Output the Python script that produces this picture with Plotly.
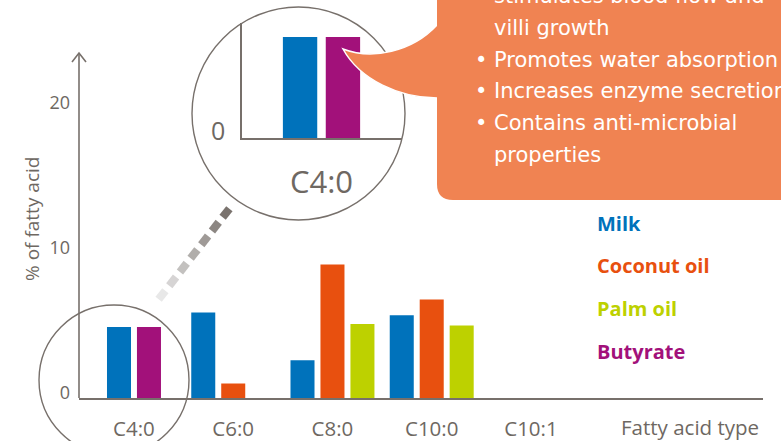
import plotly.graph_objects as go

# ---------------- data ----------------
categories = ["C4:0", "C6:0", "C8:0", "C10:0", "C10:1"]
milk = [4.9, 5.9, 2.6, 5.7, None]
coconut_oil = [None, 1.0, 9.2, 6.8, None]
palm_oil = [None, 0.0, 5.1, 5.0, None]
butyrate = [4.9, None, None, None, None]
series_names = ["Milk", "Coconut oil", "Palm oil", "Butyrate"]
y_ticks = [0, 10, 20]
zoom_category = "C4:0"
benefits = [
    ("", "stimulates blood flow and"),
    ("", "villi growth"),
    ("•", "Promotes water absorption"),
    ("•", "Increases enzyme secretion"),
    ("•", "Contains anti-microbial"),
    ("", "properties"),
]

# ---------------- styles ----------------
colors = ["#0072BB", "#E8500F", "#BDD100", "#A2117A"]
GRAY = "#77706B"
TXT = "#6E6862"
ORANGE = "#F08352"
W, H = 781, 441
L, R, T, B = 79, 18, 10, 43
PW, PH = W - L - R, H - T - B


def px(x):
    return (x - L) / PW


def py(y):
    return (H - B - y) / PH


series = [milk, coconut_oil, palm_oil, butyrate]
PITCH, BW = 0.302, 0.242

# per-category slot layout (only series that have a value take a slot)
offsets = [[0.0] * len(categories) for _ in series]
for ci in range(len(categories)):
    present = [si for si, s in enumerate(series) if s[ci] is not None]
    n = len(present)
    for k, si in enumerate(present):
        offsets[si][ci] = (k - (n - 1) / 2) * PITCH - BW / 2

fig = go.Figure()
for si, (name, vals) in enumerate(zip(series_names, series)):
    fig.add_trace(go.Bar(
        x=categories, y=vals, name=name, marker_color=colors[si],
        marker_line_width=0, offset=offsets[si], width=BW,
        xaxis="x", yaxis="y", showlegend=False, hoverinfo="skip"))

# zoomed inset of the first category
zi = categories.index(zoom_category)
for si, (name, vals) in enumerate(zip(series_names, series)):
    if vals[zi] is None:
        continue
    fig.add_trace(go.Bar(
        x=[zoom_category], y=[vals[zi]], marker_color=colors[si],
        marker_line_width=0, offset=[offsets[si][zi]], width=BW,
        xaxis="x2", yaxis="y2", showlegend=False, hoverinfo="skip"))

FONT = "Open Sans"
BOXFONT = "DejaVu Sans"
shapes = []
# y axis line with arrow
shapes.append(dict(type="line", xref="paper", yref="paper", x0=0, x1=0,
                   y0=py(398), y1=py(53), line=dict(color=GRAY, width=1.6)))
shapes.append(dict(type="path", xref="paper", yref="paper",
                   path=f"M{px(72)},{py(62)} L{px(79)},{py(53)} L{px(86)},{py(62)}",
                   line=dict(color=GRAY, width=1.6)))
# small circle around C4:0
shapes.append(dict(type="circle", xref="paper", yref="paper",
                   x0=px(114 - 75), x1=px(114 + 75), y0=py(380 + 75), y1=py(380 - 75),
                   line=dict(color=GRAY, width=1.4), layer="above"))
# big magnifier circle
shapes.append(dict(type="circle", xref="paper", yref="paper",
                   x0=px(298.5 - 106.5), x1=px(298.5 + 106.5),
                   y0=py(113.5 + 106.5), y1=py(113.5 - 106.5),
                   line=dict(color=GRAY, width=1.4), layer="above"))
# dotted connector (gradient)
x_start, y_start, x_end, y_end = 162, 295, 226, 213
nd = 7
dx, dy = x_end - x_start, y_end - y_start
ln = (dx * dx + dy * dy) ** 0.5
ux, uy = dx / ln, dy / ln
c0, c1 = (232, 232, 232), (122, 115, 110)
for i in range(nd):
    t = i / (nd - 1)
    cx, cy = x_start + dx * t, y_start + dy * t
    col = "rgb(%d,%d,%d)" % tuple(round(a + (b - a) * t) for a, b in zip(c0, c1))
    shapes.append(dict(type="line", xref="paper", yref="paper",
                       x0=px(cx - 5.5 * ux), y0=py(cy - 5.5 * uy),
                       x1=px(cx + 5.5 * ux), y1=py(cy + 5.5 * uy),
                       line=dict(color=col, width=8), layer="above"))
# callout tail
tail = (f"M{px(343)},{py(49)} C{px(372)},{py(60)} {px(412)},{py(52)} {px(437)},{py(25)} "
        f"L{px(455)},{py(25)} L{px(455)},{py(98)} L{px(437)},{py(98)} "
        f"C{px(400)},{py(98)} {px(360)},{py(80)} {px(343)},{py(49)} Z")
shapes.append(dict(type="path", xref="paper", yref="paper", path=tail,
                   fillcolor=ORANGE, line=dict(color="white", width=1.5), layer="above"))
# callout box
bx0, bx1, by0, by1, rr = 437, 810, -30, 200, 16
box = (f"M{px(bx0)},{py(by0)} L{px(bx0)},{py(by1 - rr)} "
       f"Q{px(bx0)},{py(by1)} {px(bx0 + rr)},{py(by1)} "
       f"L{px(bx1)},{py(by1)} L{px(bx1)},{py(by0)} Z")
shapes.append(dict(type="path", xref="paper", yref="paper", path=box,
                   fillcolor=ORANGE, line=dict(width=0), layer="above"))

annotations = []
# y axis title
annotations.append(dict(text="% of fatty acid", xref="paper", yref="paper",
                        x=px(32), y=py(219), textangle=-90, showarrow=False,
                        font=dict(family=FONT, size=19, color=TXT),
                        xanchor="center", yanchor="middle"))
annotations.append(dict(text="Fatty acid type", xref="paper", yref="paper",
                        x=px(690), y=py(427), showarrow=False,
                        font=dict(family=FONT, size=20.5, color=TXT),
                        xanchor="center", yanchor="middle"))
# legend labels
for i, name in enumerate(series_names):
    annotations.append(dict(text=f"<b>{name}</b>", xref="paper", yref="paper",
                            x=px(595), y=py(223 + i * 42.7), showarrow=False,
                            font=dict(family=FONT, size=20, color=colors[i]),
                            xanchor="left", yanchor="middle"))
# callout text
for i, (bullet, line) in enumerate(benefits):
    yc = -4 + i * 31.8
    if bullet:
        annotations.append(dict(text=bullet, xref="paper", yref="paper",
                                x=px(481), y=py(yc), showarrow=False,
                                font=dict(family=BOXFONT, size=21, color="white"),
                                xanchor="center", yanchor="middle"))
    annotations.append(dict(text=line, xref="paper", yref="paper",
                            x=px(492), y=py(yc), showarrow=False,
                            font=dict(family=BOXFONT, size=21, color="white"),
                            xanchor="left", yanchor="middle"))

fig.update_layout(
    width=W, height=H, margin=dict(l=L, r=R, t=T, b=B, autoexpand=False),
    paper_bgcolor="white", plot_bgcolor="rgba(0,0,0,0)",
    barmode="overlay", showlegend=False,
    xaxis=dict(type="category", categoryorder="array", categoryarray=categories,
               range=[-0.554, 6.338], showline=True, linecolor=GRAY, linewidth=1.8,
               ticks="", showgrid=False, zeroline=False, ticklabelstandoff=11,
               tickfont=dict(family=FONT, size=20.5, color=TXT), domain=[0, 1]),
    yaxis=dict(range=[0, PH / 14.5], showline=False, showgrid=False, zeroline=False,
               tickvals=y_ticks, ticks="", ticklabelshift=-5, ticklabelstandoff=8,
               tickfont=dict(family=FONT, size=18, color=TXT), domain=[0, 1]),
    xaxis2=dict(type="category", categoryarray=[zoom_category], anchor="y2",
                domain=[px(242), px(402)], range=[-0.56, 0.567],
                showline=True, linecolor=GRAY, linewidth=1.6, ticks="",
                showgrid=False, zeroline=False, ticklabelstandoff=16,
                tickfont=dict(family=FONT, size=31, color=TXT)),
    yaxis2=dict(anchor="x2", domain=[py(138), py(23)], range=[0, 115 / 20.6],
                showline=True, linecolor=GRAY, linewidth=1.6, ticks="",
                showgrid=False, zeroline=False, tickvals=[0], ticklabelshift=-7,
                ticklabelstandoff=10, tickfont=dict(family=FONT, size=25, color=TXT)),
    shapes=shapes, annotations=annotations,
)

fig.write_html("out.html", config={"displayModeBar": False},
               post_script="document.body.style.margin='0px';"
                           "document.body.style.overflow='hidden';")
